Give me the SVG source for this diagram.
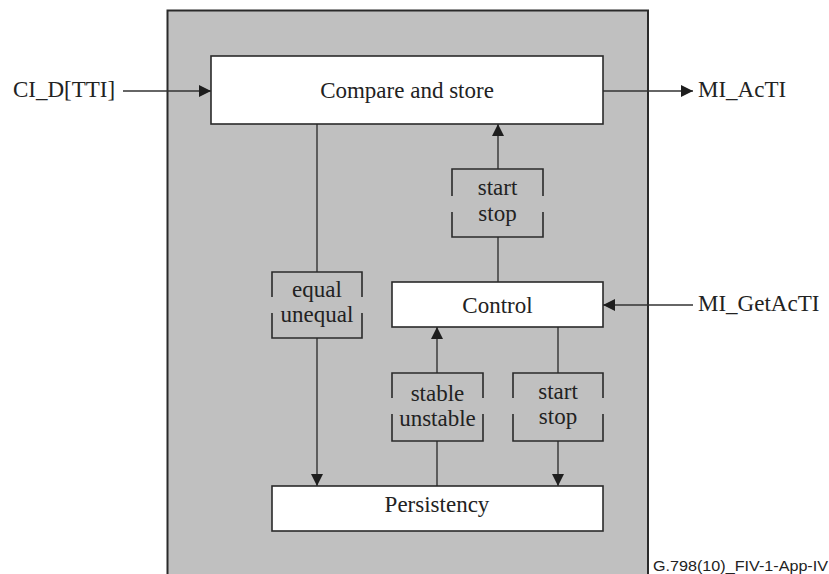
<svg xmlns="http://www.w3.org/2000/svg" width="829" height="574" viewBox="0 0 829 574">
<style>
.box{fill:#ffffff;stroke:#2a2a2a;stroke-width:1.6}
.lbl{fill:none;stroke:#2a2a2a;stroke-width:1.6}
.ln{fill:none;stroke:#333333;stroke-width:1.4}
.t{font-family:"Liberation Serif","Times New Roman",serif;font-size:23px;fill:#222222}
.m{text-anchor:middle}
.s{font-family:"Liberation Sans",Arial,sans-serif;font-size:15px;fill:#222222}
</style>
<defs>
<marker id="ah" markerUnits="userSpaceOnUse" markerWidth="12" markerHeight="12" refX="12" refY="6" orient="auto">
<path d="M0,0 L12,6 L0,12 Z" fill="#1e1e1e"/>
</marker>
</defs>
<rect id="frame" x="167.5" y="10.5" width="480.5" height="570" fill="#c0c0c0" stroke="#2a2a2a" stroke-width="2"/>
<g id="connectors">
<line class="ln" x1="123" y1="91" x2="211" y2="91" marker-end="url(#ah)"/>
<line class="ln" x1="603" y1="91" x2="693" y2="91" marker-end="url(#ah)"/>
<line class="ln" x1="693" y1="305" x2="603" y2="305" marker-end="url(#ah)"/>
<line class="ln" x1="317" y1="124" x2="317" y2="272"/>
<line class="ln" x1="317" y1="338" x2="317" y2="486" marker-end="url(#ah)"/>
<line class="ln" x1="498" y1="282" x2="498" y2="237"/>
<line class="ln" x1="498" y1="169" x2="498" y2="124" marker-end="url(#ah)"/>
<line class="ln" x1="437" y1="486" x2="437" y2="441"/>
<line class="ln" x1="437" y1="373" x2="437" y2="327" marker-end="url(#ah)"/>
<line class="ln" x1="558" y1="327" x2="558" y2="373"/>
<line class="ln" x1="558" y1="441" x2="558" y2="486" marker-end="url(#ah)"/>
</g>
<g id="compare">
<rect class="box" x="211" y="56" width="392" height="68"/>
<text class="t m" x="407" y="98">Compare and store</text>
</g>
<g id="control">
<rect class="box" x="392" y="282" width="211" height="45"/>
<text class="t m" x="497.5" y="313">Control</text>
</g>
<g id="persistency">
<rect class="box" x="272" y="486" width="331" height="45"/>
<text class="t m" x="437" y="512">Persistency</text>
</g>
<g id="label-startstop-top">
<path class="lbl" d="M452,196 V169 H543 V196 M452,212 V237 H543 V212"/>
<text class="t m" x="497.5" y="195">start</text>
<text class="t m" x="497.5" y="221">stop</text>
</g>
<g id="label-equal">
<path class="lbl" d="M272,297 V272 H362 V297 M272,313 V338 H362 V313"/>
<text class="t m" x="317" y="297">equal</text>
<text class="t m" x="317" y="322">unequal</text>
</g>
<g id="label-stable">
<path class="lbl" d="M392,398 V373 H483 V398 M392,414 V441 H483 V414"/>
<text class="t m" x="437.5" y="401">stable</text>
<text class="t m" x="437.5" y="426">unstable</text>
</g>
<g id="label-startstop-bottom">
<path class="lbl" d="M513,398 V373 H603 V398 M513,414 V441 H603 V414"/>
<text class="t m" x="558" y="399">start</text>
<text class="t m" x="558" y="424">stop</text>
</g>
<g id="io-labels">
<text class="t" x="13" y="97">CI_D[TTI]</text>
<text class="t" x="698" y="97">MI_AcTI</text>
<text class="t" x="698" y="311">MI_GetAcTI</text>
</g>
<text class="s" x="653" y="571" textLength="175" lengthAdjust="spacingAndGlyphs">G.798(10)_FIV-1-App-IV</text>
</svg>
